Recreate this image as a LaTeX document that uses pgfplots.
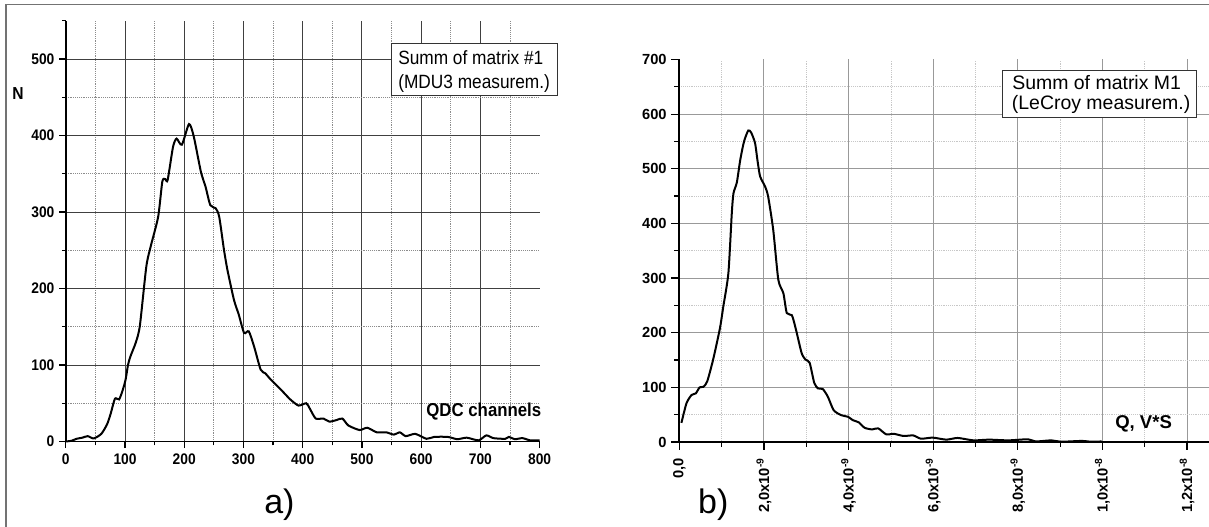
\documentclass[border=0pt]{standalone}
\usepackage{fontspec}
\setmainfont{Liberation Sans}
\newfontfamily\cond{Liberation Sans}[FakeStretch=0.9]
\usepackage{pgfplots}
\pgfplotsset{compat=1.18}

\begin{document}
\begin{tikzpicture}
\path[use as bounding box] (0,0) rectangle (906.75pt,395.25pt);

% ---------------- left panel ----------------
\begin{axis}[
  at={(49.35pt,64.125pt)}, anchor=south west,
  scale only axis, width=355.35pt, height=315.5pt,
  xmin=0, xmax=800, ymin=0, ymax=550,
  axis x line=bottom, axis y line=left,
  axis line style={-, line width=1.4pt, black},
  xtick={0,100,...,700}, minor xtick={50,150,...,750},
  extra x ticks={800}, extra x tick style={grid=none},
  ytick={0,100,...,500}, minor ytick={50,150,...,450},
  extra y ticks={550}, extra y tick labels={}, extra y tick style={grid=none, major tick length=3pt},
  tick align=outside, major tick length=5pt, minor tick length=3pt,
  tick style={black, line width=0.9pt},
  grid=both,
  major grid style={solid, black!75, line width=0.7pt},
  minor grid style={densely dotted, black!45, line width=0.6pt},
  /pgf/number format/assume math mode=true,
  tick label style={font=\cond\bfseries\fontsize{11.5}{13}\selectfont},
  xticklabel shift=1pt,
  clip=false,
]
\addplot[black, line width=1.5pt, smooth, tension=0.4] coordinates {
(0,0) (10,1) (18,3.5) (28,5) (37,7) (47,4) (60,10) (70,23) (76,37) (83,56)
(90,55) (96,67) (101,81) (105,100) (109,111) (118,129) (125,151) (136,229)
(144,257) (156,294) (163,340) (168,343) (172,342) (181,385) (187,396) (196,388)
(208,415) (216,399) (228,353) (236,333) (244,309) (253,305) (259,294) (267,251)
(273,224) (284,185) (292,166) (301,142) (309,144) (318,124) (329,94) (337,89)
(346,81) (363,68) (379,55) (393,47) (406,50) (412,43) (422,30) (435,30) (445,26)
(457,28) (467,30) (477,21) (496,15) (509,18) (525,12) (541,12) (554,9) (564,12)
(574,7) (590,10) (609,3.5) (622,6) (645,6) (661,3) (677,5) (697,1.5) (710,8)
(722,4.4) (742,3.5) (748,6) (758,3) (771,4.4) (784,1.5) (800,1.5)
};
\end{axis}

% ---------------- right panel ----------------
\begin{axis}[
  at={(509.475pt,63.75pt)}, anchor=south west,
  scale only axis, width=397.3pt, height=286.9pt,
  xmin=0, xmax=12.52, ymin=0, ymax=700,
  axis x line=bottom, axis y line=left,
  axis line style={-, line width=1.4pt, black},
  xtick={0,2,...,12}, minor xtick={1,3,...,11},
  xticklabels={{0,0},{2,0x10\textsuperscript{-9}},{4,0x10\textsuperscript{-9}},{6,0x10\textsuperscript{-9}},{8,0x10\textsuperscript{-9}},{1,0x10\textsuperscript{-8}},{1,2x10\textsuperscript{-8}}},
  ytick={0,100,...,600}, minor ytick={50,150,...,650},
  extra y ticks={700}, extra y tick style={grid=none},
  tick align=outside, major tick length=6pt, minor tick length=3.75pt,
  tick style={black, line width=0.9pt},
  grid=both,
  major grid style={solid, black!40, line width=0.7pt},
  minor grid style={densely dotted, black!22, line width=0.5pt},
  /pgf/number format/assume math mode=true,
  tick label style={font=\bfseries\fontsize{11}{13}\selectfont},
  xticklabel style={rotate=90, anchor=east},
  xticklabel shift=2.5pt,
  clip=false,
]
\addplot[black, line width=1.5pt, smooth, tension=0.4] coordinates {
(0.05,35) (0.17,71) (0.29,86) (0.39,89) (0.48,100) (0.57,101) (0.66,111)
(0.80,151) (0.96,208) (1.04,248) (1.16,309) (1.24,418) (1.28,455) (1.36,475)
(1.44,516) (1.53,550) (1.63,570) (1.70,566) (1.79,547) (1.85,514) (1.91,486)
(2.03,467) (2.10,449) (2.22,388) (2.34,297) (2.46,272) (2.54,236) (2.66,232)
(2.75,208) (2.89,163) (2.98,151) (3.08,145) (3.19,108) (3.28,98) (3.39,97)
(3.51,83) (3.65,58) (3.83,49) (3.99,46) (4.10,40) (4.24,36) (4.38,26) (4.56,23)
(4.70,25) (4.89,14) (5.07,15) (5.30,11) (5.53,12) (5.71,6) (5.99,8) (6.31,4.3)
(6.58,7.4) (6.95,3) (7.32,4.3) (7.78,3) (8.24,5) (8.42,1) (8.79,3) (9.02,0.5)
(9.52,2) (9.71,0.6) (9.98,1)
};
\end{axis}

\begin{scope}[x=0.75pt, y=-0.75pt, yshift=395.25pt]
% frame (left and top edges)
\draw[black!55, line width=1.1pt] (6,527) -- (6,4.3) -- (1209,4.3);

% legend boxes
\draw[fill=white, draw=black!80, line width=0.6pt] (391,43) rectangle (557,95);
\node[anchor=base west, inner sep=0, font=\cond\fontsize{14.4}{16}\selectfont] at (398,64.5) {Summ of matrix \#1};
\node[anchor=base west, inner sep=0, font=\cond\fontsize{14.4}{16}\selectfont] at (398,89) {(MDU3 measurem.)};

\draw[fill=white, draw=black!80, line width=0.6pt] (1002,70.6) rectangle (1196,117);
\node[anchor=base west, inner sep=0, font=\fontsize{14.6}{16}\selectfont] at (1012,90) {Summ of matrix M1};
\node[anchor=base west, inner sep=0, font=\fontsize{14.6}{16}\selectfont] at (1011.6,110) {(LeCroy measurem.)};

% axis labels
\node[anchor=base, inner sep=0, font=\cond\bfseries\fontsize{13}{15}\selectfont] at (18,99.3) {N};
\node[anchor=base east, inner sep=0, font=\cond\bfseries\fontsize{14}{16}\selectfont] at (541.5,416.8) {QDC channels};
\node[anchor=base west, inner sep=0, font=\bfseries\fontsize{13.9}{15}\selectfont] at (1115,428.3) {Q, V*S};

% panel letters
\node[anchor=base, inner sep=0, font=\fontsize{25.5}{28}\selectfont] at (279.4,513.5) {a)};
\node[anchor=base, inner sep=0, font=\fontsize{25.5}{28}\selectfont] at (713.3,513.5) {b)};
\end{scope}
\end{tikzpicture}
\end{document}
